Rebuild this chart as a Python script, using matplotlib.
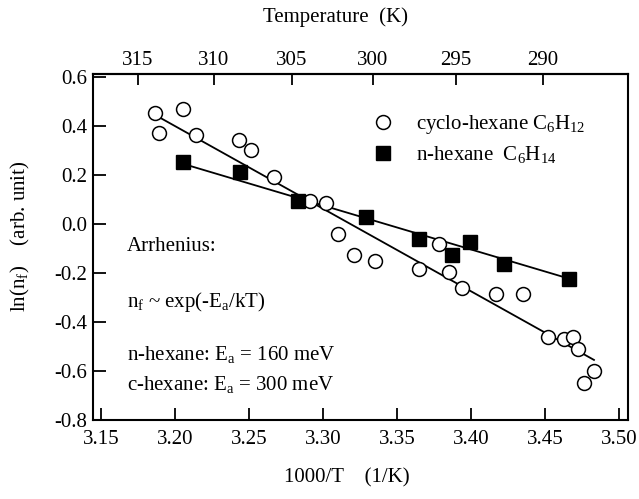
import numpy as np
import matplotlib
matplotlib.use("Agg")
import matplotlib.pyplot as plt
from matplotlib.ticker import FormatStrFormatter

plt.rcParams['font.family'] = ['Liberation Serif', 'DejaVu Serif']
plt.rcParams['mathtext.fontset'] = 'custom'
plt.rcParams['mathtext.rm'] = 'Liberation Serif'
plt.rcParams['mathtext.it'] = 'Liberation Serif:italic'
plt.rcParams['axes.unicode_minus'] = False

# cyclo-hexane C6H12 (open circles)
cyclo_x = [3.186, 3.205, 3.189, 3.214, 3.243, 3.251, 3.267, 3.291, 3.302, 3.310,
           3.321, 3.335, 3.365, 3.378, 3.385, 3.394, 3.417, 3.435,
           3.452, 3.463, 3.469, 3.472, 3.476, 3.483]
cyclo_y = [0.451, 0.467, 0.369, 0.362, 0.342, 0.301, 0.192, 0.094, 0.084, -0.041,
           -0.127, -0.153, -0.185, -0.083, -0.198, -0.263, -0.288, -0.288,
           -0.46, -0.47, -0.46, -0.51, -0.65, -0.60]

# n-hexane C6H14 (filled squares)
hexane_x = [3.205, 3.244, 3.283, 3.329, 3.365, 3.387, 3.399, 3.422, 3.466]
hexane_y = [0.251, 0.213, 0.094, 0.029, -0.063, -0.127, -0.073, -0.165, -0.225]

# Arrhenius fit lines (end points)
cyclo_fit_x = [3.186, 3.483]
cyclo_fit_y = [0.445, -0.555]
hexane_fit_x = [3.205, 3.467]
hexane_fit_y = [0.245, -0.225]

x_ticks = [3.15, 3.20, 3.25, 3.30, 3.35, 3.40, 3.45, 3.50]
y_ticks = [-0.8, -0.6, -0.4, -0.2, 0.0, 0.2, 0.4, 0.6]
temp_ticks = [315, 310, 305, 300, 295, 290]

fs = 15

fig = plt.figure(figsize=(6.39, 4.99), dpi=100)
ax = fig.add_axes([92.5 / 639, 1 - 420 / 499, 535.5 / 639, 346 / 499])

ax.plot(cyclo_fit_x, cyclo_fit_y, color='black', lw=1.3, zorder=2)
ax.plot(hexane_fit_x, hexane_fit_y, color='black', lw=1.3, zorder=2)
ax.plot(cyclo_x, cyclo_y, 'o', ms=10, mfc='white', mec='black', mew=1.1,
        ls='none', label='cyclo-hexane C$_6$H$_{12}$', zorder=3)
ax.plot(hexane_x, hexane_y, 's', ms=10, mfc='black', mec='black',
        ls='none', label='n-hexane  C$_6$H$_{14}$', zorder=3)

ax.set_xlim(3.1440, 3.5060)
ax.set_ylim(-0.8, 0.611)
ax.set_xticks(x_ticks)
ax.set_yticks(y_ticks)
ax.xaxis.set_major_formatter(FormatStrFormatter('%.2f'))
ax.yaxis.set_major_formatter(FormatStrFormatter('%.1f'))
ax.tick_params(axis='both', direction='in', length=9, width=1.3, labelsize=fs,
               top=False, right=False)
ax.tick_params(axis='x', pad=7)
ax.tick_params(axis='y', pad=4)
for s in ax.spines.values():
    s.set_linewidth(1.5)

sec = ax.secondary_xaxis('top', functions=(lambda x: 1000 / x, lambda t: 1000 / t))
sec.set_xticks(temp_ticks)
sec.tick_params(direction='in', length=8, width=1.3, labelsize=fs, pad=3)
sec.spines['top'].set_linewidth(1.5)
ax.text(0.453, 1.165, 'Temperature  (K)', transform=ax.transAxes,
        fontsize=fs, ha='center', va='center')

ax.set_xlabel('1000/T    (1/K)', fontsize=fs)
ax.xaxis.set_label_coords(0.475, -0.14)
ax.set_ylabel('ln(n$_\\mathrm{f}$)    (arb. unit)', fontsize=fs)
ax.yaxis.set_label_coords(-0.113, 0.53)

ax.legend(loc='upper left', bbox_to_anchor=(0.523, 0.887), frameon=False,
          fontsize=fs, handlelength=1.0, handletextpad=1.1, labelspacing=0.4,
          borderpad=0, borderaxespad=0, numpoints=1)

tx = 0.064
ax.text(tx, 0.5, 'Arrhenius:', transform=ax.transAxes, fontsize=fs, va='center')
ax.text(tx, 0.342, 'n$_\\mathrm{f}$ ~ exp(-E$_\\mathrm{a}$/kT)', transform=ax.transAxes,
        fontsize=fs, va='center')
ax.text(tx, 0.19, 'n-hexane: E$_\\mathrm{a}$ = 160 meV', transform=ax.transAxes,
        fontsize=fs, va='center')
ax.text(tx, 0.103, 'c-hexane: E$_\\mathrm{a}$ = 300 meV', transform=ax.transAxes,
        fontsize=fs, va='center')

fig.savefig('out.png', dpi=100)
